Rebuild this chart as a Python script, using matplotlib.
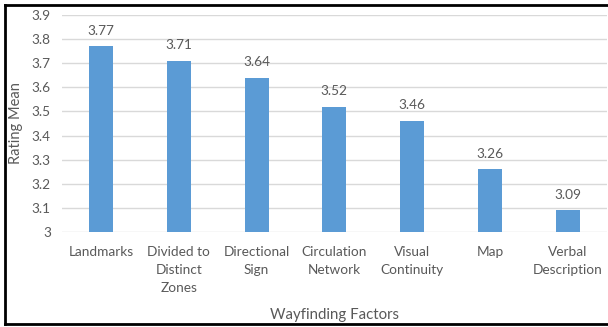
import matplotlib.pyplot as plt
from matplotlib.lines import Line2D

# data
factors = ["Landmarks", "Divided to\nDistinct\nZones", "Directional\nSign",
           "Circulation\nNetwork", "Visual\nContinuity", "Map",
           "Verbal\nDescription"]
means = [3.77, 3.71, 3.64, 3.52, 3.46, 3.26, 3.09]
yticks = [3, 3.1, 3.2, 3.3, 3.4, 3.5, 3.6, 3.7, 3.8, 3.9]
ytick_labels = ["3", "3.1", "3.2", "3.3", "3.4", "3.5", "3.6", "3.7", "3.8", "3.9"]

plt.rcParams['font.family'] = ['Lato', 'DejaVu Sans']
grey = '#595959'

fig = plt.figure(figsize=(6.08, 3.27), dpi=100)
ax = fig.add_axes([0.102, 0.2905, 0.896, 0.6635])

x = range(len(factors))
bars = ax.bar(x, means, width=0.31, color='#5B9BD5', zorder=3)
for b, v in zip(bars, means):
    ax.annotate(f"{v:.2f}", (b.get_x() + b.get_width() / 2, v),
                xytext=(0, 7), textcoords='offset points',
                ha='center', va='bottom', fontsize=9.8, color=grey)

ax.set_ylim(3, 3.9)
ax.set_xlim(-0.5, len(factors) - 0.5)
ax.set_yticks(yticks)
ax.set_yticklabels(ytick_labels)
ax.set_xticks(list(x))
ax.set_xticklabels(factors, linespacing=1.6)
ax.tick_params(length=0, labelsize=9.8, labelcolor=grey)
ax.tick_params(axis='x', pad=10)
ax.tick_params(axis='y', pad=8)
ax.grid(axis='y', color='#D9D9D9', linewidth=1, zorder=0)
for s in ax.spines.values():
    s.set_visible(False)

ax.set_ylabel("Rating Mean", fontsize=10.5, color=grey, labelpad=6)
ax.set_xlabel("Wayfinding Factors", fontsize=10.8, color=grey, labelpad=10)

# frame around the chart (right edge is cut off in the original)
W, H = 608, 327
fx = lambda px: px / W
fy = lambda py: 1 - py / H
for xs, ys in [([5, 5], [4.5, 323.5]), ([5, 620], [4.5, 4.5]), ([5, 620], [323.5, 323.5])]:
    fig.add_artist(Line2D([fx(v) for v in xs], [fy(v) for v in ys],
                          color='black', linewidth=2, transform=fig.transFigure))

fig.savefig("out.png", dpi=100)
